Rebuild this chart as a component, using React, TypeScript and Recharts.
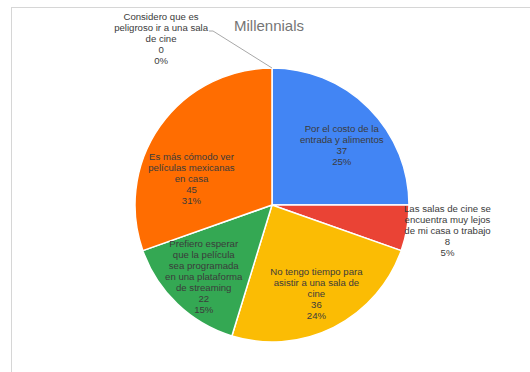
import { PieChart, Pie, Cell } from "recharts";

const labelLines: string[][] = [
  ["Por el costo de la", "entrada y alimentos"],
  ["Las salas de cine se", "encuentra muy lejos", "de mi casa o trabajo"],
  ["No tengo tiempo para", "asistir a una sala de", "cine"],
  ["Prefiero esperar", "que la película", "sea programada", "en una plataforma", "de streaming"],
  ["Es más cómodo ver", "películas mexicanas", "en casa"],
  ["Considero que es", "peligroso ir a una sala", "de cine"],
];
const values = [37, 8, 36, 22, 45, 0];
const percents = ["25%", "5%", "24%", "15%", "31%", "0%"];
const colors = ["#4285f4", "#ea4335", "#fbbc04", "#34a853", "#ff6d01", "#46bdc6"];

const data = labelLines.map((lines, i) => ({
  name: lines.join(" "),
  value: values[i],
}));
const total = values.reduce((a, b) => a + b, 0);

const FONT = "'Liberation Sans', Arial, sans-serif";
const FS = 9.6;
const LH = 11;
const TEXT = "#3b3b3b";

let ctx: CanvasRenderingContext2D | null = null;
function textWidth(s: string) {
  if (!ctx) {
    ctx = document.createElement("canvas").getContext("2d");
    if (ctx) ctx.font = `${FS}px ${FONT}`;
  }
  return ctx ? ctx.measureText(s).width : s.length * 5;
}

function renderLabel(props: any) {
  const { cx, cy, midAngle, outerRadius, index } = props;
  const lines = [...labelLines[index], String(values[index]), percents[index]];
  const widths = lines.map(textWidth);
  const maxW = Math.max(...widths);
  const rad = (-midAngle * Math.PI) / 180;
  const share = values[index] / total;
  let x: number;
  let top: number;
  let leader: string | null = null;

  if (share === 0) {
    const ex = cx + outerRadius * Math.cos(rad);
    const ey = cy + outerRadius * Math.sin(rad);
    const bx = ex - 59;
    const by = ey - 37;
    const endX = bx - 4;
    leader = `M${ex},${ey}L${bx},${by}L${endX},${by}`;
    x = endX - 1 - maxW / 2;
    top = by - 4 - LH;
  } else if (share < 0.1) {
    x = cx + outerRadius * Math.cos(rad) - 3 + maxW / 2;
    const y = cy + outerRadius * Math.sin(rad) + 2;
    top = y - ((lines.length - 1) * LH) / 2;
  } else {
    // start on the slice's mid ray, then slide vertically until every line fits in the circle
    const r = outerRadius * 0.72;
    const dx = r * Math.cos(rad);
    let dy = r * Math.sin(rad);
    const fit = outerRadius - 4;
    const half = ((lines.length - 1) * LH) / 2;
    for (let k = 0; k < 200; k++) {
      const ok = lines.every((_, i) => {
        const ly = dy - half + i * LH;
        const edge = Math.abs(ly) + 2;
        const ex = Math.abs(dx) + widths[i] / 2;
        return ex * ex + edge * edge <= fit * fit;
      });
      if (ok) break;
      dy += dy < 0 ? 0.5 : -0.5;
    }
    x = cx + dx;
    top = cy + dy - half;
  }

  return (
    <g key={`lbl-${index}`}>
      {leader && <path d={leader} stroke="#a8a8a8" strokeWidth={1} fill="none" />}
      <text textAnchor="middle" fill={TEXT} fontSize={FS} fontFamily={FONT}>
        {lines.map((l, i) => (
          <tspan key={i} x={x} y={top + i * LH + 3.5}>
            {l}
          </tspan>
        ))}
      </text>
    </g>
  );
}

export default function App() {
  return (
    <div
      style={{
        position: "absolute",
        left: 0,
        top: 0,
        width: 530,
        height: 372,
        background: "#fff",
        overflow: "hidden",
      }}
    >
      <div
        style={{
          position: "absolute",
          left: 11,
          top: 7,
          right: 0,
          bottom: 0,
          borderTop: "1px solid #d6d6d6",
          borderLeft: "1px solid #d6d6d6",
        }}
      />
      <div
        style={{
          position: "absolute",
          left: 0,
          width: 538,
          top: 17,
          textAlign: "center",
          fontFamily: FONT,
          fontSize: 15,
          color: "#757575",
        }}
      >
        Millennials
      </div>
      <div style={{ position: "absolute", left: 0, top: 0 }}>
        <PieChart width={530} height={372} margin={{ top: 0, right: 0, bottom: 0, left: 0 }}>
          <Pie
            data={data}
            dataKey="value"
            nameKey="name"
            cx={272}
            cy={205}
            outerRadius={137}
            startAngle={90}
            endAngle={-270}
            stroke="#ffffff"
            strokeWidth={1.5}
            label={renderLabel}
            labelLine={false}
            isAnimationActive={false}
          >
            {data.map((d, i) => (
              <Cell key={d.name} fill={colors[i]} />
            ))}
          </Pie>
        </PieChart>
      </div>
    </div>
  );
}
